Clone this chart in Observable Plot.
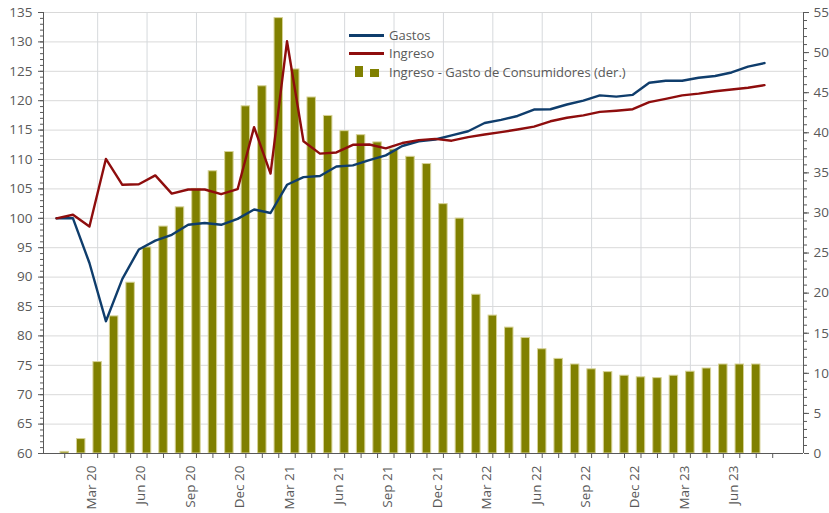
<!DOCTYPE html>
<html><head><meta charset="utf-8">
<script src="https://cdn.jsdelivr.net/npm/d3@7"></script>
<script src="https://cdn.jsdelivr.net/npm/@observablehq/plot@0.6"></script>
<style>
html,body{margin:0;padding:0;background:#fff;}
#wrap{position:relative;width:829px;height:513px;font-family:"Open Sans",sans-serif;}
.lg{position:absolute;font-size:13px;color:#595959;line-height:18px;white-space:nowrap;}
.sw{position:absolute;}
</style></head>
<body><div id="wrap"></div>
<script>
// Bars: Ingreso - Gasto de Consumidores (right axis)
const barMonths = ["2020-01","2020-02","2020-03","2020-04","2020-05","2020-06","2020-07","2020-08","2020-09","2020-10","2020-11","2020-12",
"2021-01","2021-02","2021-03","2021-04","2021-05","2021-06","2021-07","2021-08","2021-09","2021-10","2021-11","2021-12",
"2022-01","2022-02","2022-03","2022-04","2022-05","2022-06","2022-07","2022-08","2022-09","2022-10","2022-11","2022-12",
"2023-01","2023-02","2023-03","2023-04","2023-05","2023-06","2023-07"];
const barValues = [0.2,1.8,11.4,17.1,21.3,25.7,28.3,30.7,33.0,35.2,37.6,43.3,
45.8,54.3,47.9,44.4,42.1,40.2,39.7,38.8,37.9,37.0,36.1,31.1,
29.3,19.8,17.2,15.7,14.4,13.0,11.8,11.1,10.5,10.15,9.7,9.5,
9.4,9.7,10.2,10.6,11.1,11.1,11.1];
// Lines (left axis), month-end points
const lineMonths = ["2019-12", ...barMonths];
const gastos = [100.0,100.0,92.4,82.5,89.7,94.7,96.2,97.2,98.9,99.2,98.9,99.9,101.5,
100.9,105.7,107.0,107.2,108.8,109.0,109.9,110.7,112.3,113.1,113.4,114.1,
114.8,116.2,116.75,117.4,118.5,118.55,119.35,120.0,120.9,120.7,121.0,123.05,
123.4,123.4,123.9,124.2,124.8,125.8,126.4];
const ingreso = [100.0,100.6,98.6,110.1,105.7,105.8,107.3,104.2,104.9,104.9,104.1,104.95,115.5,
107.6,130.1,113.1,111.0,111.2,112.5,112.55,111.9,112.8,113.3,113.5,113.2,
113.8,114.25,114.65,115.1,115.6,116.5,117.1,117.5,118.1,118.3,118.55,119.75,
120.3,120.9,121.2,121.6,121.9,122.2,122.65];
const tickMonths = ["2020-03","2020-06","2020-09","2020-12","2021-03","2021-06","2021-09","2021-12","2022-03","2022-06","2022-09","2022-12","2023-03","2023-06"];
const tickLabels = ["Mar 20","Jun 20","Sep 20","Dec 20","Mar 21","Jun 21","Sep 21","Dec 21","Mar 22","Jun 22","Sep 22","Dec 22","Mar 23","Jun 23"];
const leftTicks = [60,65,70,75,80,85,90,95,100,105,110,115,120,125,130,135];
const rightTicks = [0,5,10,15,20,25,30,35,40,45,50,55];
const seriesNames = ["Gastos","Ingreso","Ingreso - Gasto de Consumidores (der.)"];
const colors = ["#0f3d6c","#8e0d0d","#808000"];

const toL = v => 60 + v * 75 / 55;
const fromL = y => (y - 60) * 55 / 75;
const mIdx = s => { const [y, m] = s.split("-").map(Number); return (y - 2020) * 12 + m - 1; };

const bars = barMonths.map((s, i) => ({m: mIdx(s), v: toL(barValues[i])}));
const lines = [
  ...lineMonths.map((s, i) => ({m: mIdx(s) + 0.5, v: gastos[i], s: seriesNames[0]})),
  ...lineMonths.map((s, i) => ({m: mIdx(s) + 0.5, v: ingreso[i], s: seriesNames[1]}))
];
const quarters = tickMonths.map((s, i) => ({m: mIdx(s), label: tickLabels[i]}));
const allMonths = d3.range(mIdx("2020-01"), mIdx("2023-08") + 1);
const xDomain = [-1.29, 44.87];
const axisColor = "#595959";

const chart = Plot.plot({
  width: 829, height: 513,
  marginLeft: 43, marginRight: 26, marginTop: 12, marginBottom: 60,
  style: {fontFamily: "'Open Sans', sans-serif", fontSize: "13.5px", color: axisColor, background: "#fff", overflow: "visible"},
  x: {type: "linear", domain: xDomain},
  y: {domain: [60, 135]},
  color: {domain: seriesNames.slice(0, 2), range: colors.slice(0, 2)},
  marks: [
    Plot.gridY(leftTicks, {stroke: "#d9d9d9", strokeOpacity: 1}),
    Plot.gridX(quarters.map(d => d.m), {stroke: "#d6d9dc", strokeOpacity: 1}),
    Plot.rectY(bars, {x1: d => d.m - 0.5, x2: d => d.m + 0.5, y1: 60, y2: "v", insetLeft: 4, insetRight: 4,
      fill: colors[2], stroke: "#d6d296", strokeWidth: 1}),
    Plot.line(lines, {x: "m", y: "v", z: "s", stroke: "s", strokeWidth: 2.4, strokeLinejoin: "round"}),
    Plot.ruleX([xDomain[0], xDomain[1]], {stroke: axisColor, strokeWidth: 1}),
    Plot.ruleY([60], {stroke: axisColor, strokeWidth: 1}),
    Plot.axisY({ticks: d3.range(60, 136, 1), tickSize: 3, tickFormat: () => "", label: null, stroke: axisColor}),
    Plot.axisY({ticks: leftTicks, tickSize: 5, tickPadding: 6, label: null, stroke: axisColor}),
    Plot.axisY({anchor: "right", ticks: d3.range(0, 56, 1).map(toL), tickSize: 3, tickFormat: () => "", label: null, stroke: axisColor}),
    Plot.axisY({anchor: "right", ticks: rightTicks.map(toL), tickSize: 5, tickPadding: 5, tickFormat: d => String(Math.round(fromL(d))), label: null, stroke: axisColor}),
    Plot.axisX({ticks: allMonths, tickSize: 5, tickFormat: () => "", label: null, stroke: axisColor}),
    Plot.text(quarters, {x: "m", text: "label", frameAnchor: "bottom", rotate: -90, textAnchor: "end",
      lineAnchor: "middle", dy: 12, dx: -6, fill: axisColor, fontSize: 13.5})
  ]
});

const wrap = document.getElementById("wrap");
wrap.appendChild(chart);
// legend overlay
function add(cls, css, html) { const e = document.createElement("div"); e.className = cls; Object.assign(e.style, css); if (html) e.textContent = html; wrap.appendChild(e); }
add("sw", {left: "349px", top: "34px", width: "35px", height: "2.5px", background: colors[0]});
add("sw", {left: "349px", top: "52px", width: "35px", height: "2.5px", background: colors[1]});
add("sw", {left: "355px", top: "66px", width: "8px", height: "10.5px", background: colors[2]});
add("sw", {left: "370px", top: "69px", width: "9px", height: "7.5px", background: colors[2]});
add("lg", {left: "389px", top: "26px"}, seriesNames[0]);
add("lg", {left: "389px", top: "44px"}, seriesNames[1]);
add("lg", {left: "389px", top: "62.5px"}, seriesNames[2]);
</script>
</body></html>
